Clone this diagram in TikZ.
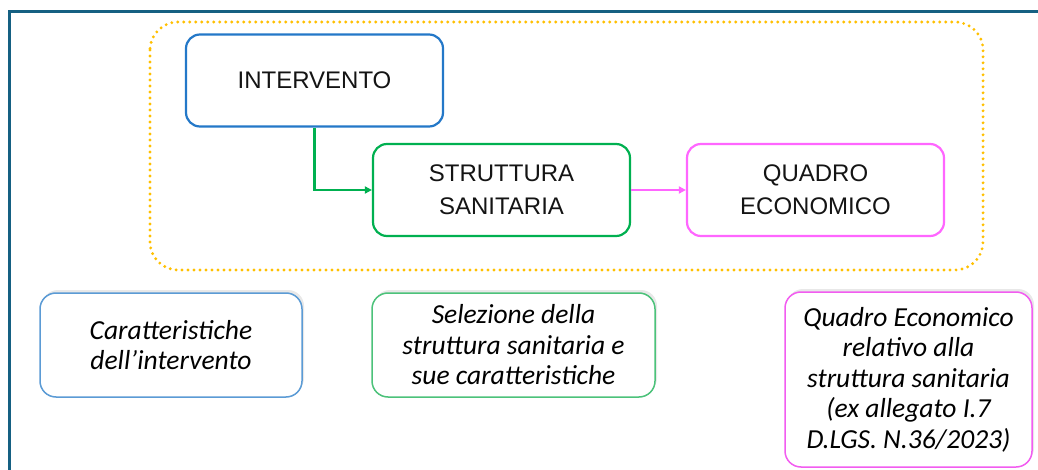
\documentclass[tikz,border=0pt]{standalone}
\usepackage{fontspec}
\setmainfont{Liberation Sans}
\newfontfamily\calfont{Carlito}
\usetikzlibrary{arrows.meta,shadows}
\definecolor{frameblue}{HTML}{156082}
\definecolor{boxblue}{HTML}{2478C8}
\definecolor{boxgreen}{HTML}{00B050}
\definecolor{boxmag}{HTML}{FF66FF}
\definecolor{lblue}{HTML}{5B9BD5}
\definecolor{lgreen}{HTML}{4CC27A}
\definecolor{lmag}{HTML}{F25CF0}
\definecolor{dotorange}{HTML}{FFC000}
\tikzset{
  topbox/.style={draw, rounded corners=14pt, line width=2.2pt, minimum width=257pt, minimum height=92pt, inner sep=0pt, align=center, font=\fontsize{24}{33}\selectfont, text=black!92},
  botbox/.style={draw, rounded corners=16pt, line width=1.5pt, fill=white, inner sep=0pt, align=center,
     font=\calfont\itshape\fontsize{27.5}{30.5}\selectfont, text=black,
     drop shadow={opacity=0.18, shadow xshift=2pt, shadow yshift=3pt}},
  flowarrow/.style={line width=2.2pt, -{Triangle[length=7pt,width=7pt]}},
}
\begin{document}
\begin{tikzpicture}[x=1pt,y=-1pt]
\useasboundingbox[fill=white] (0,0) rectangle (1038,470);
% outer frame (left and top edges visible)
\draw[frameblue, line width=3.5pt] (9.5,472) -- (9.5,11.5) -- (1040,11.5);
% dotted group
\draw[dotorange, line width=3.2pt, line cap=round, dash pattern=on 0pt off 6pt, rounded corners=28pt]
  (150,22) rectangle (983,270);
% top flow
\node[topbox, draw=boxblue] (int) at (314.5,80.5) {INTERVENTO};
\node[topbox, draw=boxgreen] (str) at (501.5,190) {STRUTTURA\\SANITARIA};
\node[topbox, draw=boxmag] (qua) at (815.5,190) {QUADRO\\ECONOMICO};
\draw[flowarrow, boxgreen] (int.south) |- (str.west);
\draw[flowarrow, boxmag] (str.east) -- (qua.west);
% bottom descriptions
\node[botbox, draw=lblue, minimum width=262pt, minimum height=104pt] (d1) at (171,345) {Caratteristiche\\dell’intervento};
\node[botbox, draw=lgreen, minimum width=283pt, minimum height=104pt] (d2) at (513.5,345) {Selezione della\\struttura sanitaria e\\sue caratteristiche};
\node[botbox, draw=lmag, minimum width=247pt, minimum height=175pt] (d3) at (908.5,379.5) {Quadro Economico\\relativo alla\\struttura sanitaria\\(ex allegato I.7\\D.LGS. N.36/2023)};
\end{tikzpicture}
\end{document}
